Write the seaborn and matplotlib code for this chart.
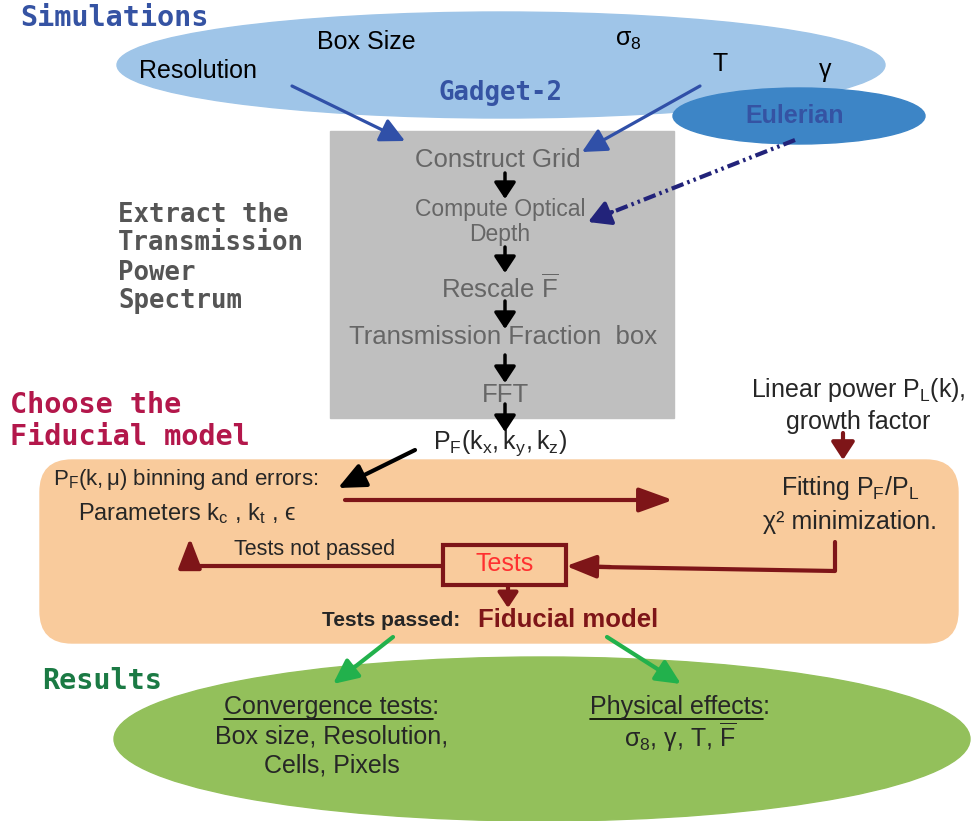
import seaborn as sns
import matplotlib
matplotlib.use("Agg")
import matplotlib.pyplot as plt
from matplotlib.patches import Ellipse, Rectangle, FancyBboxPatch

# ---- chart content -------------------------------------------------------
section_titles = ["Simulations", "Extract the\nTransmission\nPower\nSpectrum",
                  "Choose the\nFiducial model", "Results"]
sim_params = ["Resolution", "Box Size", r"$\sigma_{8}$", "T", r"$\gamma$"]
sim_codes = ["Gadget-2", "Eulerian"]
pipeline_steps = ["Construct Grid", "Compute Optical\nDepth",
                  r"Rescale $\overline{\mathrm{F}}$",
                  "Transmission Fraction  box", "FFT"]
pipeline_output = r"$\mathregular{P_F(k_x,k_y,k_z)}$"
linear_input = "Linear power $\\mathregular{P_L(k)}$,\ngrowth factor"
fit_labels = ["$\\mathregular{P_F(k,\\mu)}$ binning and errors:",
              "Parameters $\\mathregular{k_c}$ , $\\mathregular{k_t}$ , ϵ",
              "Fitting $\\mathregular{P_F/P_L}$\nχ² minimization."]
test_labels = ["Tests", "Tests not passed", "Tests passed: ", "Fiducial model"]
result_heads = ["Convergence tests", "Physical effects"]
result_items = ["Box size, Resolution,\nCells, Pixels",
                r"$\sigma_8$, $\gamma$, T, $\overline{\mathrm{F}}$"]

# ---- style ---------------------------------------------------------------
sns.set_theme(style="white")
plt.rcParams['font.family'] = ['Liberation Sans', 'DejaVu Sans']
plt.rcParams['mathtext.fontset'] = 'custom'
plt.rcParams['mathtext.rm'] = 'Liberation Sans'
plt.rcParams['mathtext.it'] = 'Liberation Sans'
plt.rcParams['mathtext.bf'] = 'Liberation Sans:bold'
plt.rcParams['mathtext.sf'] = 'Liberation Sans'

blue_light, blue_mid, blue_txt = "#9fc5e8", "#3d85c6", "#3553a3"
grey_box, grey_txt = "#bfbfbf", "#666666"
orange, dred, red = "#f9cb9c", "#7e1518", "#ff3030"
green_fill, green_arr, green_txt = "#93c05b", "#22b14c", "#1b7a44"
crimson, navy = "#b3174b", "#22237a"
mono = "DejaVu Sans Mono"

fig = plt.figure(figsize=(9.72, 8.21), dpi=100)
ax = fig.add_axes([0, 0, 1, 1])
ax.set_xlim(0, 972)
ax.set_ylim(821, 0)
ax.axis("off")

MS = 10  # mutation scale in points
PX = MS * 100 / 72


def arrow(p0, p1, color, lw=2.5, hl=14, hw=14, z=5):
    # hl / hw: arrow head length / full width in pixels
    hl, hw = hl * 1.15, hw * 1.3
    style = "-|>,head_length=%.3f,head_width=%.3f" % (hl / PX, hw / 2 / PX)
    ax.annotate("", xy=p1, xytext=p0, zorder=z,
                arrowprops=dict(arrowstyle=style, color=color, lw=lw,
                                mutation_scale=MS, shrinkA=0, shrinkB=0))


# ---- shapes --------------------------------------------------------------
ax.add_patch(Ellipse((501, 65), 768, 106, color=blue_light, zorder=1))
ax.add_patch(Rectangle((330, 131), 344, 287, color=grey_box, zorder=1))
ax.add_patch(Ellipse((799, 116), 252, 56, color=blue_mid, zorder=2))
ax.add_patch(FancyBboxPatch((40, 460), 918, 183,
                            boxstyle="round,pad=0,rounding_size=32",
                            color=orange, zorder=1))
ax.add_patch(Ellipse((542, 739), 856, 164, color=green_fill, zorder=1))
ax.add_patch(Rectangle((443, 545), 123, 40, fill=False, ec=dred, lw=3, zorder=4))

# ---- section titles ------------------------------------------------------
ax.text(20, 18, section_titles[0], family=mono, weight="bold", size=20.5,
        color=blue_txt, va="center", ha="left")
ax.text(118, 258, section_titles[1], family=mono, weight="bold", size=18.5,
        color="#555555", va="center", ha="left", linespacing=1.15)
ax.text(10, 421, section_titles[2], family=mono, weight="bold", size=20.5,
        color=crimson, va="center", ha="left", linespacing=1.15)
ax.text(42, 681, section_titles[3], family=mono, weight="bold", size=20.5,
        color=green_txt, va="center", ha="left")

# ---- simulations ---------------------------------------------------------
param_xy = [(198, 71), (366, 42), (628, 40), (720, 64), (825, 72)]
for lab, (x, y) in zip(sim_params, param_xy):
    ax.text(x, y, lab, size=18, color="black", ha="center", va="center")
ax.text(500, 93, sim_codes[0], family=mono, weight="bold", size=18.5,
        color=blue_txt, ha="center", va="center")
ax.text(795, 116, sim_codes[1], weight="bold", size=18, color=blue_txt,
        ha="center", va="center", zorder=3)

arrow((292, 86), (405, 141), "#3050a8", lw=2.3, hl=18, hw=16)
arrow((700, 86), (582, 152), "#3050a8", lw=2.3, hl=18, hw=16)
ax.plot([795, 605], [140, 215], color=navy, lw=3,
        dashes=(3, 1, 0.6, 1, 0.6, 1), zorder=4)
arrow((612, 212), (588, 222), navy, lw=3, hl=16, hw=16)

# ---- pipeline ------------------------------------------------------------
step_xy = [(498, 160), (500, 222), (500, 288), (503, 337), (505, 395)]
step_size = [18.5, 16.5, 18.5, 18.5, 18.5]
for lab, (x, y), s in zip(pipeline_steps, step_xy, step_size):
    ax.text(x, y, lab, size=s, color=grey_txt, ha="center", va="center",
            linespacing=1.1, zorder=3)
for y0, y1 in [(173, 199), (247, 273), (301, 329), (355, 383), (404, 432)]:
    arrow((505, y0), (505, y1), "black", lw=2.5, hl=12, hw=14)

ax.text(500, 443, pipeline_output, size=18, ha="center", va="center")
ax.text(858, 405, linear_input, size=18, ha="center", va="center",
        linespacing=1.35)
arrow((843, 433), (843, 460), dred, lw=3, hl=13, hw=15)

# ---- fitting box ---------------------------------------------------------
arrow((415, 450), (338, 488), "black", lw=3, hl=20, hw=16)
ax.text(53, 480, fit_labels[0], size=16, ha="left", va="center")
ax.text(78, 514, fit_labels[1], size=17, ha="left", va="center")
ax.text(850, 504, fit_labels[2], size=18, ha="center", va="center",
        linespacing=1.4)
arrow((345, 500), (673, 500), dred, lw=3, hl=25, hw=16)

ax.text(505, 564, test_labels[0], size=18, color=red, ha="center",
        va="center", zorder=5)
ax.plot([835, 835, 600], [542, 571, 567], color=dred, lw=3, zorder=4)
arrow((610, 567), (566, 566), dred, lw=3, hl=22, hw=15)
ax.plot([443, 190, 190], [566, 566, 555], color=dred, lw=3, zorder=4)
arrow((190, 562), (190, 538), dred, lw=3, hl=22, hw=15)
ax.text(315, 550, test_labels[1], size=15.5, ha="center", va="center")
arrow((508, 586), (508, 608), dred, lw=3, hl=11, hw=13)
ax.text(466, 621, test_labels[2], size=15, weight="bold", ha="right",
        va="center")
ax.text(478, 620, test_labels[3], size=18.5, weight="bold", color=dred,
        ha="left", va="center")

# ---- results -------------------------------------------------------------
arrow((393, 637), (333, 684), green_arr, lw=3, hl=18, hw=15)
arrow((607, 637), (681, 684), green_arr, lw=3, hl=18, hw=15)

head_xy = [(332, 707), (680, 707)]
item_xy = [(332, 751), (680, 737)]
heads = []
for h, (x, y) in zip(result_heads, head_xy):
    heads.append(ax.text(x, y, h + ":", size=18, ha="center", va="center"))
for it, (x, y) in zip(result_items, item_xy):
    ax.text(x, y, it, size=18, ha="center", va="center", linespacing=1.3)

# underline the result headings (without the colon)
fig.canvas.draw()
r = fig.canvas.get_renderer()
inv = ax.transData.inverted()
for t, h in zip(heads, result_heads):
    bb = t.get_window_extent(r)
    tmp = ax.text(0, 0, h, size=18)
    w = tmp.get_window_extent(r).width
    tmp.remove()
    (x0, _), (x1, _) = inv.transform([(bb.x0, bb.y0), (bb.x0 + w, bb.y0)])
    ax.plot([x0, x1], [719, 719], color="black", lw=1.2)

plt.savefig("out.png", dpi=100)
